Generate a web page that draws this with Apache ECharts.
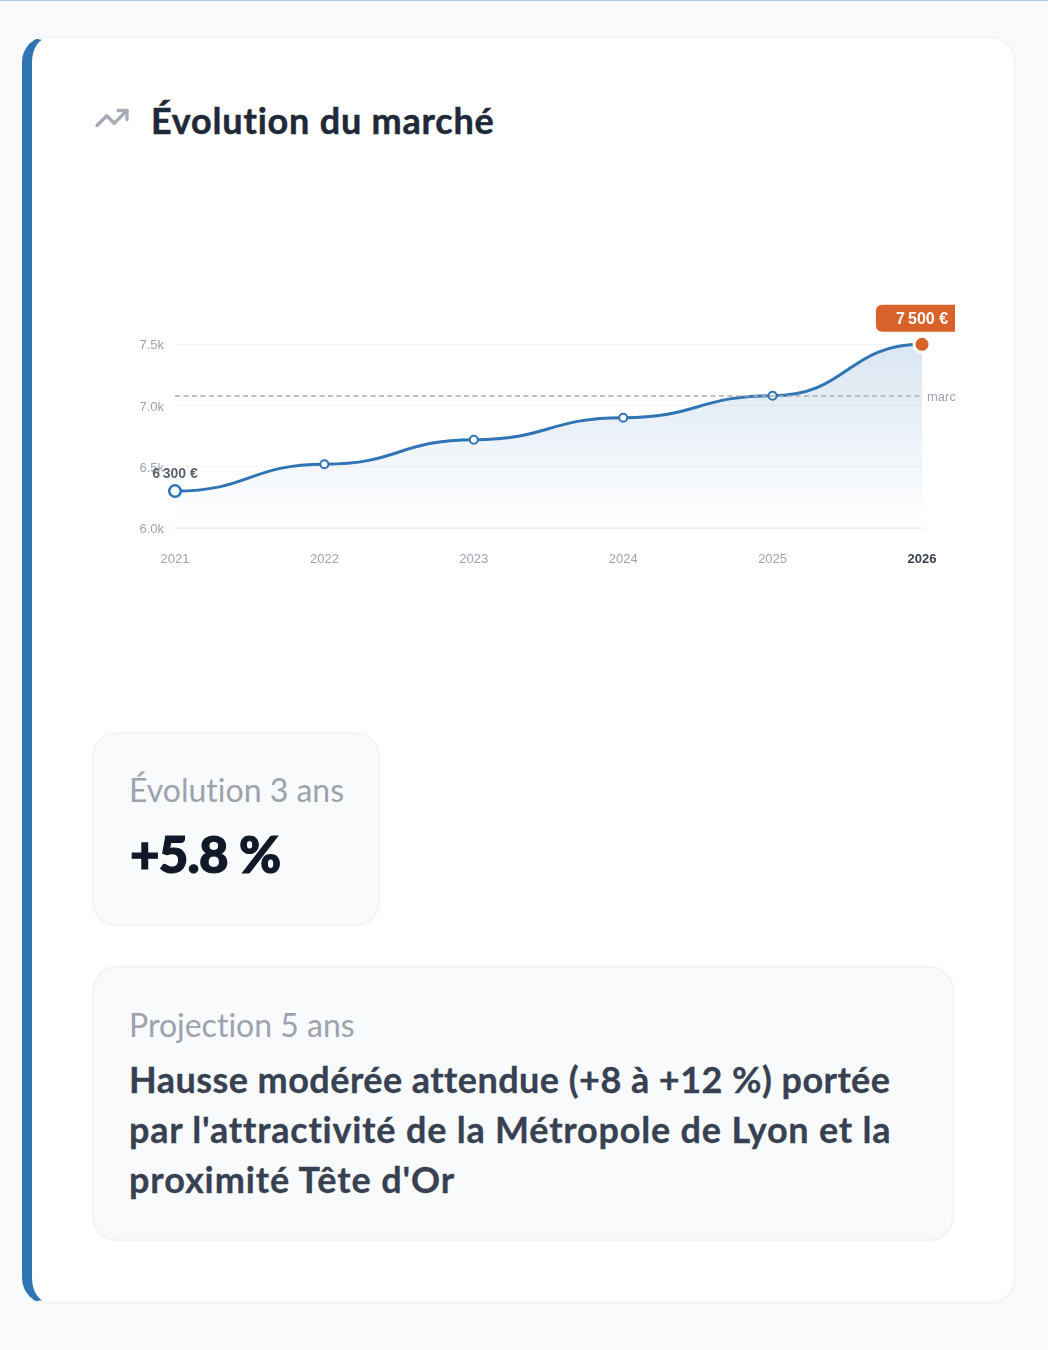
<!DOCTYPE html>
<html lang="fr">
<head>
<meta charset="utf-8">
<title>Évolution du marché</title>
<script src="https://cdn.jsdelivr.net/npm/echarts@6/dist/echarts.min.js"></script>
<style>
  html, body { margin: 0; padding: 0; }
  body { width: 1048px; height: 1350px; background: #f8fafc; position: relative; overflow: hidden; font-family: Lato, sans-serif; font-variant-ligatures: none; }
  .topline { position: absolute; left: 0; top: 0; width: 100%; height: 1px; background: #a9c6e3; }
  .card { position: absolute; left: 22px; top: 36px; width: 994px; height: 1268px; box-sizing: border-box; background: #fff; border: 2px solid #f3f4f6; border-left: 10px solid #2f74b3; border-radius: 26px; }
  .abs { position: absolute; white-space: nowrap; }
  h2 { margin: 0; left: 151px; top: 97px; font-size: 36px; line-height: 46px; font-weight: 700; letter-spacing: .8px; color: #1f2937; -webkit-text-stroke: .5px #1f2937; }
  .icon { left: 93px; top: 100px; }
  #chart { position: absolute; left: 93px; top: 190px; width: 862px; height: 440px; }
  .box { position: absolute; box-sizing: border-box; background: #f9fafb; border: 2px solid #f3f4f6; border-radius: 24px; }
  .label { font-size: 32px; line-height: 40px; color: #9ca3af; font-weight: 400; }
  .big { font-size: 51px; line-height: 64px; color: #111827; font-weight: 900; letter-spacing: -.8px; -webkit-text-stroke: 1.2px #111827; }
  .para { left: 129px; top: 1054px; font-size: 36px; line-height: 50px; color: #374151; font-weight: 700; -webkit-text-stroke: .3px #374151; }
  .para span { display: block; }
</style>
</head>
<body>
<div class="topline"></div>
<div class="card"></div>
<svg class="abs icon" width="38" height="36" viewBox="0 0 24 24" fill="none" stroke="#a5aab4" stroke-width="2.2" stroke-linecap="round" stroke-linejoin="round">
  <polyline points="22 7 13.5 15.5 8.5 10.5 2 17"></polyline>
  <polyline points="16 7 22 7 22 13"></polyline>
</svg>
<h2 class="abs">Évolution du marché</h2>
<div id="chart"></div>
<div class="box" style="left:92px;top:732px;width:288px;height:194px"></div>
<div class="abs label" style="left:129px;top:770px">Évolution 3 ans</div>
<div class="abs big" style="left:130px;top:822px">+5.8 %</div>
<div class="box" style="left:92px;top:966px;width:862px;height:275px"></div>
<div class="abs label" style="left:129px;top:1005px">Projection 5 ans</div>
<div class="abs para">
  <span style="letter-spacing:.45px">Hausse modérée attendue (+8 à +12 %) portée</span>
  <span style="letter-spacing:.8px">par l'attractivité de la Métropole de Lyon et la</span>
  <span style="letter-spacing:.9px">proximité Tête d'Or</span>
</div>
<script>
// Prix moyen au m² par année
const years = ['2021', '2022', '2023', '2024', '2025', '2026'];
const prices = [6300, 6520, 6720, 6900, 7080, 7500];
const marketLevel = 7080;
const yTicks = { min: 6000, max: 7500, interval: 500 };

const BLUE = '#2f74b5';
const ORANGE = '#d9622b';
const euro = v => String(v).replace(/\B(?=(\d{3})+$)/g, '\u202f') + ' €';
const lastIdx = years.length - 1;

const points = prices.map((value, i) => {
  if (i === 0) {
    return {
      value, symbolSize: 11.5,
      itemStyle: { color: '#fff', borderColor: BLUE, borderWidth: 2.5 },
      label: { show: true, position: 'top', distance: 5, offset: [0, 2], formatter: euro(value), color: '#5b6270', fontWeight: 'bold', fontSize: 14 }
    };
  }
  if (i === lastIdx) {
    return {
      value, symbolSize: 16,
      itemStyle: { color: ORANGE, borderColor: '#fff', borderWidth: 3 },
      label: { show: true, position: 'top', distance: 3, formatter: euro(value), color: '#fff', fontWeight: 'bold', fontSize: 16,
               backgroundColor: ORANGE, borderRadius: 6, padding: [6.5, 20, 4.5, 20] }
    };
  }
  return { value, symbolSize: 8, itemStyle: { color: '#fff', borderColor: BLUE, borderWidth: 2 } };
});

// Courbe à tangentes horizontales : points de contrôle au milieu de chaque intervalle
function renderCurve(params, api) {
  if (params.dataIndex !== 0) return null;
  const pts = prices.map((v, i) => api.coord([i, v]));
  const base = api.coord([0, yTicks.min])[1];
  let d = 'M' + pts[0][0] + ' ' + pts[0][1];
  for (let i = 1; i < pts.length; i++) {
    const mid = (pts[i - 1][0] + pts[i][0]) / 2;
    d += 'C' + mid + ' ' + pts[i - 1][1] + ' ' + mid + ' ' + pts[i][1] + ' ' + pts[i][0] + ' ' + pts[i][1];
  }
  const area = d + 'L' + pts[lastIdx][0] + ' ' + base + 'L' + pts[0][0] + ' ' + base + 'Z';
  return {
    type: 'group',
    children: [
      { type: 'path', shape: { pathData: area }, silent: true, style: {
          fill: new echarts.graphic.LinearGradient(0, 0, 0, 1, [
            { offset: 0, color: 'rgba(47,116,181,0.18)' },
            { offset: 1, color: 'rgba(47,116,181,0)' }
          ]) } },
      { type: 'path', shape: { pathData: d }, silent: true, style: { fill: 'none', stroke: BLUE, lineWidth: 3 } }
    ]
  };
}

const chart = echarts.init(document.getElementById('chart'), null, { renderer: 'canvas' });
chart.setOption({
  animation: false,
  textStyle: { fontFamily: '"Liberation Sans", Arial, sans-serif' },
  grid: { left: 82, right: 33, top: 154.3, height: 183.5, containLabel: false },
  xAxis: {
    type: 'category', data: years, boundaryGap: false,
    axisTick: { show: false },
    axisLine: { show: true, lineStyle: { color: '#eceef2', width: 1.5 } },
    axisLabel: {
      margin: 25, fontSize: 13, color: '#9ca3af', showMaxLabel: true,
      formatter: (v, i) => i === lastIdx ? '{last|' + v + '}' : v,
      rich: { last: { fontWeight: 'bold', color: '#374151', fontSize: 13 } }
    }
  },
  yAxis: {
    type: 'value', min: yTicks.min, max: yTicks.max, interval: yTicks.interval,
    axisLine: { show: false }, axisTick: { show: false },
    axisLabel: {
      margin: 11, fontSize: 13, color: '#9ca3af',
      formatter: v => '{t|' + (v / 1000).toFixed(1) + 'k}',
      rich: { t: { fontSize: 13, color: '#9ca3af', padding: [3, 0, 0, 0] } }
    },
    splitLine: { lineStyle: { color: '#f3f4f6', width: 1 } }
  },
  series: [
    {
      type: 'custom', renderItem: renderCurve, z: 2, clip: false, silent: true,
      data: prices.map((v, i) => [i, v]), encode: { x: 0, y: 1 }
    },
    {
      type: 'line', data: points, z: 3,
      symbol: 'circle', showSymbol: true,
      lineStyle: { width: 0, opacity: 0 },
      itemStyle: { color: BLUE },
      markLine: {
        silent: true, symbol: 'none',
        lineStyle: { color: '#a9aeb8', type: [5, 3.5], width: 1.5 },
        label: { show: true, position: 'end', formatter: 'marché', color: '#9ca3af', fontSize: 13, distance: 5, offset: [0, 2] },
        data: [{ yAxis: marketLevel }]
      }
    }
  ]
});
</script>
</body>
</html>
